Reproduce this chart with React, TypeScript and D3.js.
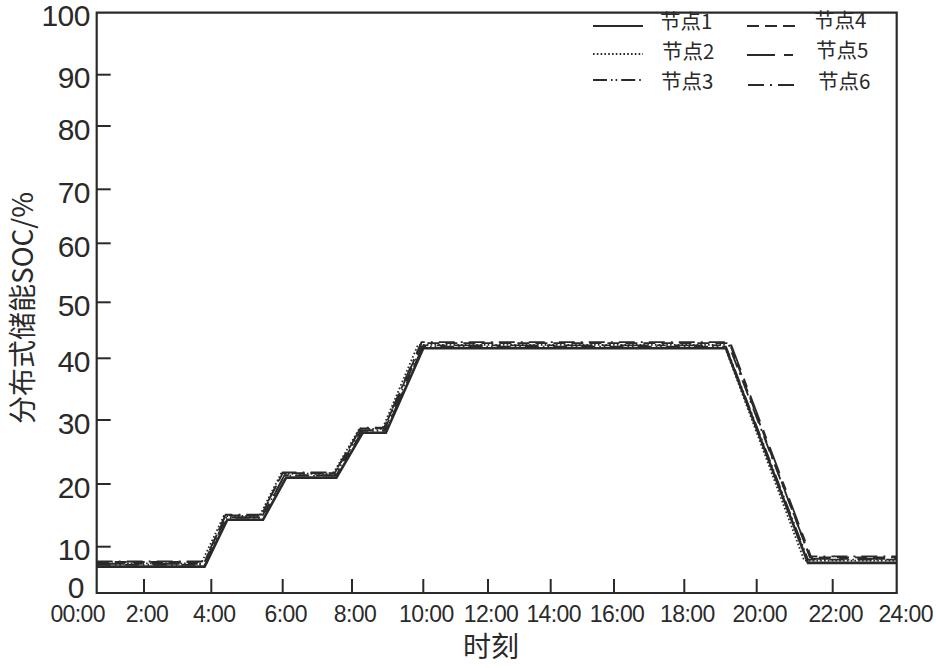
import React from "react";
import * as d3 from "d3";

// ---------- data ----------
const xTickHours = [0, 2, 4, 6, 8, 10, 12, 14, 16, 18, 20, 22, 24];
const xTickLabels = ["00:00", "2:00", "4:00", "6:00", "8:00", "10:00", "12:00", "14:00", "16:00", "18:00", "20:00", "22:00", "24:00"];
const yTickValues = [0, 10, 20, 30, 40, 50, 60, 70, 80, 90, 100];

const nodeNames = ["节点1", "节点2", "节点3", "节点4", "节点5", "节点6"];

const node1Hours = [0, 3.8, 4.45, 5.45, 6.1, 7.55, 8.3, 8.95, 10.0, 19.15, 21.35, 24];
const node1Soc = [5.7, 5.7, 14.3, 14.3, 21.0, 21.0, 28.0, 28.0, 41.8, 41.8, 6.5, 6.5];

const node2Hours = [0, 3.7, 4.35, 5.35, 5.95, 7.45, 8.2, 8.85, 9.85, 19.1, 21.25, 24];
const node2Soc = [6.4, 6.4, 14.9, 14.9, 21.6, 21.6, 28.6, 28.6, 42.4, 42.4, 7.0, 7.0];

const node3Hours = [0, 3.8, 4.4, 5.4, 6.05, 7.5, 8.25, 8.9, 9.95, 19.15, 21.35, 24];
const node3Soc = [6.1, 6.1, 14.6, 14.6, 21.3, 21.3, 28.3, 28.3, 42.1, 42.1, 7.2, 7.2];

const node4Hours = [0, 3.8, 4.4, 5.4, 6.0, 7.5, 8.25, 8.9, 9.95, 19.25, 21.4, 24];
const node4Soc = [6.7, 6.7, 15.0, 15.0, 21.7, 21.7, 28.7, 28.7, 42.7, 42.7, 7.7, 7.7];

const node5Hours = [0, 3.85, 4.45, 5.45, 6.05, 7.55, 8.3, 8.95, 10.0, 19.3, 21.45, 24];
const node5Soc = [6.3, 6.3, 14.7, 14.7, 21.4, 21.4, 28.4, 28.4, 42.3, 42.3, 7.4, 7.4];

const node6Hours = [0, 3.8, 4.4, 5.4, 6.0, 7.5, 8.25, 8.9, 9.95, 19.2, 21.4, 24];
const node6Soc = [6.8, 6.8, 15.1, 15.1, 21.8, 21.8, 28.8, 28.8, 42.9, 42.9, 7.9, 7.9];

const nodeHours = [node1Hours, node2Hours, node3Hours, node4Hours, node5Hours, node6Hours];
const nodeSoc = [node1Soc, node2Soc, node3Soc, node4Soc, node5Soc, node6Soc];

// ---------- layout / style ----------
const W = 936;
const H = 668;
// the reference axis has slightly uneven tick spacing; reproduce via polylinear scales
const xTickPx = [96.7, 144, 211.3, 282.7, 352, 423.3, 488, 550.7, 614, 684.3, 756.7, 832.7, 896.7];
const yTickPx = [593, 546.7, 484, 420, 358.3, 302.3, 243.3, 189.3, 126, 74.7, 12.7];

const INK = "#2a2a2a";
const dashes = ["", "1.6,2.2", "14,4,1.6,3,1.6,4", "12,6", "28,9,9,9", "16,6,2,6"];
const widths = [2.6, 1.8, 1.8, 1.8, 1.8, 1.8];

const latin = "'Liberation Sans', Arial, sans-serif";
const cjk = "'Noto Sans CJK SC', 'Liberation Sans', sans-serif";

export default function App() {
  const x = d3.scaleLinear().domain(xTickHours).range(xTickPx);
  const y = d3.scaleLinear().domain(yTickValues).range(yTickPx);
  const left = x(0), right = x(24), top = y(100), bottom = y(0);

  const line = d3
    .line<[number, number]>()
    .x((d) => x(d[0]))
    .y((d) => y(d[1]));

  const series = nodeHours.map((hs, i) => hs.map((h, j) => [h, nodeSoc[i][j]] as [number, number]));

  // legend layout
  const legendRows = [
    { lx: 593, tx: 660, ly: 26, ty: 22 },
    { lx: 593, tx: 662, ly: 54, ty: 52 },
    { lx: 593, tx: 661, ly: 80, ty: 82 },
    { lx: 747, tx: 814, ly: 26, ty: 21 },
    { lx: 747, tx: 816, ly: 55, ty: 51 },
    { lx: 748, tx: 818, ly: 85, ty: 82 },
  ];

  return (
    <svg width={W} height={H} style={{ position: "absolute", left: 0, top: 0, background: "#fff" }}>
      <rect x={0} y={0} width={W} height={H} fill="#fff" />
      {/* frame */}
      <path
        d={`M${left},${top} L${right},${top} L${right},${bottom} L${left},${bottom} Z`}
        fill="none"
        stroke={INK}
        strokeWidth={2.2}
      />
      {/* y ticks */}
      {yTickValues.map((v, i) => (
        <g key={"y" + v}>
          {v !== 0 && v !== 100 && (
            <line x1={left} x2={left + 14} y1={y(v)} y2={y(v)} stroke={INK} strokeWidth={2} />
          )}
          <text
            x={v === 0 ? 84 : 90}
            y={y(v) + (v === 0 ? 5 : 13.5)}
            textAnchor="end"
            fontFamily={latin}
            fontSize={30}
            fill={INK}
            letterSpacing={-0.5}
          >
            {v}
          </text>
        </g>
      ))}
      {/* x ticks */}
      {xTickHours.map((h, i) => (
        <g key={"x" + h}>
          {h !== 0 && h !== 24 && (
            <line x1={x(h)} x2={x(h)} y1={bottom} y2={bottom - 14} stroke={INK} strokeWidth={2} />
          )}
          <text
            x={x(h) + (i === 0 ? -19 : i === xTickHours.length - 1 ? 9 : 3)}
            y={622}
            textAnchor="middle"
            fontFamily={latin}
            fontSize={23}
            fill={INK}
            letterSpacing={-0.6}
          >
            {xTickLabels[i]}
          </text>
        </g>
      ))}
      {/* axis titles */}
      <text x={491} y={657} textAnchor="middle" fontFamily={cjk} fontSize={28} fill={INK}>
        时刻
      </text>
      <text
        transform={`translate(33,308) rotate(-90)`}
        textAnchor="middle"
        fontFamily={cjk}
        fontSize={28}
        fill={INK}
      >
        分布式储能SOC/%
      </text>
      {/* series */}
      {series.map((s, i) => (
        <path
          key={"s" + i}
          d={line(s) || ""}
          fill="none"
          stroke={INK}
          strokeWidth={widths[i]}
          strokeDasharray={dashes[i] || undefined}
          strokeLinejoin="miter"
        />
      ))}
      {/* legend */}
      {nodeNames.map((n, i) => {
        const r = legendRows[i];
        return (
          <g key={"l" + i}>
            <line
              x1={r.lx}
              x2={r.lx + 50}
              y1={r.ly}
              y2={r.ly}
              stroke={INK}
              strokeWidth={i === 0 ? 2 : 1.8}
              strokeDasharray={dashes[i] || undefined}
            />
            <text x={r.tx} y={r.ty + 7} fontFamily={cjk} fontSize={20.5} fill={INK}>
              {n}
            </text>
          </g>
        );
      })}
    </svg>
  );
}
